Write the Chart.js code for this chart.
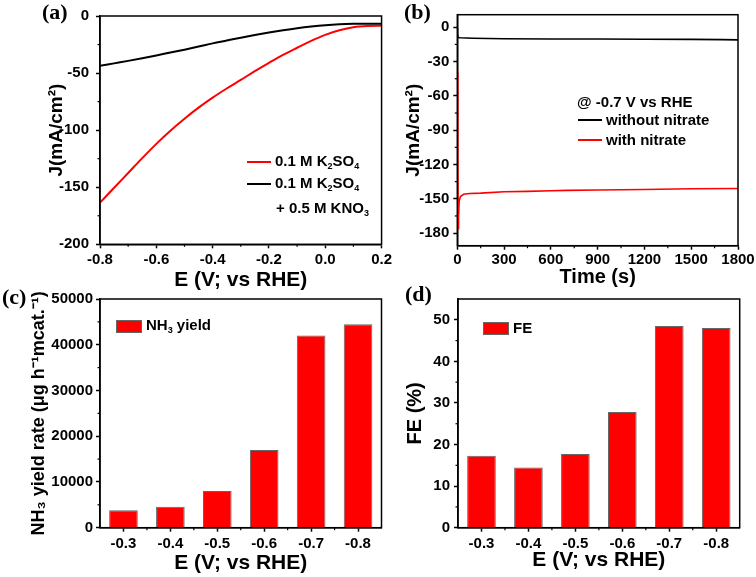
<!DOCTYPE html>
<html><head><meta charset="utf-8">
<script src="https://cdn.jsdelivr.net/npm/chart.js@4.4.1/dist/chart.umd.min.js"></script>
<style>
html,body{margin:0;padding:0;background:#fff;}
body{width:756px;height:577px;position:relative;overflow:hidden;font-family:'Liberation Sans',Arial,sans-serif;}
canvas{position:absolute;}
.pl{position:absolute;font-family:'Liberation Serif','Times New Roman',serif;font-weight:bold;font-size:22px;line-height:22px;}
.lg{position:absolute;font-weight:bold;font-size:15px;line-height:18px;height:18px;white-space:nowrap;display:flex;align-items:center;}
.ln{display:inline-block;width:24px;height:2px;margin-right:4px;}
.bx{display:inline-block;width:24px;height:11px;background:#f00;border:1px solid #666;margin-right:4px;}
sub{font-size:9px;vertical-align:baseline;position:relative;top:3px;}
</style></head><body>
<canvas id="ca" width="395" height="300" style="left:0;top:0"></canvas>
<canvas id="cb" width="378" height="300" style="left:378px;top:0"></canvas>
<canvas id="cc" width="395" height="297" style="left:0;top:280px"></canvas>
<canvas id="cd" width="378" height="297" style="left:378px;top:280px"></canvas>

<div class="pl" style="left:42px;top:1px">(a)</div>
<div class="pl" style="left:404px;top:1px">(b)</div>
<div class="pl" style="left:2px;top:286px">(c)</div>
<div class="pl" style="left:405px;top:283px">(d)</div>

<div class="lg" style="left:247px;top:153px"><span class="ln" style="background:#f00"></span><span>0.1 M K<sub>2</sub>SO<sub>4</sub></span></div>
<div class="lg" style="left:247px;top:175px"><span class="ln" style="background:#000"></span><span>0.1 M K<sub>2</sub>SO<sub>4</sub></span></div>
<div class="lg" style="left:276px;top:200px"><span>+ 0.5 M KNO<sub>3</sub></span></div>

<div class="lg" style="left:577px;top:93px"><span>@ -0.7 V vs RHE</span></div>
<div class="lg" style="left:578px;top:111px"><span class="ln" style="background:#000"></span><span>without nitrate</span></div>
<div class="lg" style="left:578px;top:131px"><span class="ln" style="background:#f00"></span><span>with nitrate</span></div>

<div class="lg" style="left:116px;top:317px"><span class="bx"></span><span>NH<sub>3</sub> yield</span></div>
<div class="lg" style="left:483px;top:319px"><span class="bx"></span><span>FE</span></div>

<script>
// ---------- (a) LSV curves ----------
const aPotential = [-0.80,-0.75,-0.70,-0.65,-0.60,-0.55,-0.50,-0.45,-0.40,-0.35,-0.30,-0.25,-0.20,-0.15,-0.10,-0.05,0.00,0.05,0.10,0.15,0.20];
const aJRed   = [-163.5,-150.5,-137.5,-124.5,-112,-100.5,-90,-80.3,-71.5,-63.5,-56,-48.3,-41,-34,-27.8,-21.8,-16.5,-12.5,-9.8,-8.8,-8.6];
const aJBlack = [-43.7,-41.5,-39.3,-37,-34.6,-32,-29.5,-26.8,-24,-21.5,-19,-16.7,-14.5,-12.5,-10.7,-9.2,-8,-7.2,-6.8,-6.7,-6.7];
const aXTicks = [-0.8,-0.6,-0.4,-0.2,0.0,0.2];
const aXMinor = [-0.7,-0.5,-0.3,-0.1,0.1];
const aYTicks = [0,-50,-100,-150,-200];
const aYMinor = [-25,-75,-125,-175];

// ---------- (b) i-t curves ----------
const bTimeBlack = [0,1,5,20,100,300,600,900,1200,1500,1700,1800];
const bJBlack    = [-0.5,-6,-9,-9.2,-9.6,-10,-10.2,-10.3,-10.5,-10.6,-10.8,-11];
const bTimeRed = [1,3,5,8,12,20,40,80,150,300,450,600,700,900,1200,1500,1800];
const bJRed    = [-39,-120,-176,-165,-152,-148,-146,-145.3,-145,-143.8,-143.5,-143,-142.6,-142.3,-141.8,-141.2,-141];
const bXTicks = [0,300,600,900,1200,1500,1800];
const bXMinor = [150,450,750,1050,1350,1650];
const bYTicks = [0,-30,-60,-90,-120,-150,-180];
const bYMinor = [-15,-45,-75,-105,-135,-165];

// ---------- (c),(d) bars ----------
const potentials = ['-0.3','-0.4','-0.5','-0.6','-0.7','-0.8'];
const nh3Yield = [3800,4600,8000,17000,42000,44500];
const faradaicEff = [17.3,14.5,17.7,27.8,48.5,48.0];
const cYTicks = [0,10000,20000,30000,40000,50000];
const cYMinor = [5000,15000,25000,35000,45000];
const dYTicks = [0,10,20,30,40,50];
const dYMinor = [5,15,25,35,45];
const catMinor = [0.5,1.5,2.5,3.5,4.5];

Chart.defaults.font.family = "'Liberation Sans', Arial, sans-serif";
Chart.defaults.font.weight = 'bold';
Chart.defaults.color = '#000';
Chart.defaults.animation = false;

const framePlugin = {
  id: 'frame',
  afterDraw(chart, args, opts) {
    const ctx = chart.ctx, a = chart.chartArea;
    ctx.save();
    ctx.strokeStyle = '#000';
    ctx.lineWidth = 1.5;
    ctx.strokeRect(a.left, a.top, a.right - a.left, a.bottom - a.top);
    ctx.lineWidth = 1.2;
    const xs = chart.scales.x, ys = chart.scales.y;
    (opts.minorX || []).forEach(v => { const p = xs.getPixelForValue(v); ctx.beginPath(); ctx.moveTo(p, a.bottom); ctx.lineTo(p, a.bottom + 2.5); ctx.stroke(); });
    (opts.minorY || []).forEach(v => { const p = ys.getPixelForValue(v); ctx.beginPath(); ctx.moveTo(a.left, p); ctx.lineTo(a.left - 2.5, p); ctx.stroke(); });
    ctx.restore();
  }
};

function mkScale(o) {
  const s = {
    type: o.type || 'linear',
    offset: !!o.offset,
    afterFit: (sc) => { if (o.width != null) sc.width = o.width; if (o.height != null) sc.height = o.height; },
    grid: { display: true, drawOnChartArea: false, drawTicks: true, tickLength: 4, tickColor: '#000', tickWidth: 1.5, offset: false },
    border: { display: true, color: '#000', width: 1.5 },
    ticks: { padding: o.tickPad, font: { size: 15, weight: 'bold' }, color: '#000', maxRotation: 0, autoSkip: false },
    title: { display: true, text: o.title, font: { size: o.titleSize || 21, weight: 'bold' }, color: '#000', padding: o.titlePad }
  };
  if (o.min != null) s.min = o.min;
  if (o.max != null) s.max = o.max;
  if (o.tickVals) s.afterBuildTicks = (sc) => { sc.ticks = o.tickVals.map(v => ({ value: v })); };
  if (o.fmt) s.ticks.callback = o.fmt;
  return s;
}

const base = { responsive: false, maintainAspectRatio: false, devicePixelRatio: 1, animation: false };

new Chart(document.getElementById('ca'), {
  type: 'line',
  data: { datasets: [
    { data: aPotential.map((x, i) => ({ x, y: aJBlack[i] })), borderColor: '#000', borderWidth: 2, pointRadius: 0, cubicInterpolationMode: 'monotone' },
    { data: aPotential.map((x, i) => ({ x, y: aJRed[i] })), borderColor: '#f00', borderWidth: 2, pointRadius: 0, cubicInterpolationMode: 'monotone' }
  ]},
  options: Object.assign({}, base, {
    layout: { padding: { left: 0, top: 15.7, right: 12, bottom: 0 } },
    plugins: { legend: { display: false }, tooltip: { enabled: false }, frame: { minorX: aXMinor, minorY: aYMinor } },
    scales: {
      x: mkScale({ min: -0.8, max: 0.2, tickVals: aXTicks, fmt: v => v.toFixed(1), height: 55.7, tickPad: 3, title: 'E (V; vs RHE)', titlePad: { top: 0, bottom: 7 } }),
      y: mkScale({ min: -200, max: 0, tickVals: aYTicks, fmt: v => String(v), width: 100, tickPad: 7, title: 'J(mA/cm²)', titleSize: 19, titlePad: { top: 45, bottom: 0 } })
    }
  }),
  plugins: [framePlugin]
});

new Chart(document.getElementById('cb'), {
  type: 'line',
  data: { datasets: [
    { data: bTimeBlack.map((x, i) => ({ x, y: bJBlack[i] })), borderColor: '#000', borderWidth: 1.6, pointRadius: 0 },
    { data: bTimeRed.map((x, i) => ({ x, y: bJRed[i] })), borderColor: '#f00', borderWidth: 1.6, pointRadius: 0 }
  ]},
  options: Object.assign({}, base, {
    layout: { padding: { left: 0, top: 14.7, right: 18, bottom: 0 } },
    plugins: { legend: { display: false }, tooltip: { enabled: false }, frame: { minorX: bXMinor, minorY: bYMinor } },
    scales: {
      x: mkScale({ min: 0, max: 1800, tickVals: bXTicks, fmt: v => String(v), height: 54.3, tickPad: 1, title: 'Time (s)', titleSize: 20, titlePad: { top: 0, bottom: 11 } }),
      y: mkScale({ min: -191, max: 11, tickVals: bYTicks, fmt: v => String(v), width: 79.3, tickPad: 4, title: 'J(mA/cm²)', titleSize: 19, titlePad: { top: 24, bottom: 0 } })
    }
  }),
  plugins: [framePlugin]
});

new Chart(document.getElementById('cc'), {
  type: 'bar',
  data: { labels: potentials, datasets: [
    { label: 'NH₃ yield', data: nh3Yield, backgroundColor: '#f00', borderColor: '#666', borderWidth: 1, barPercentage: 0.61, categoryPercentage: 1.0 }
  ]},
  options: Object.assign({}, base, {
    layout: { padding: { left: 0, top: 19, right: 13.5, bottom: 0 } },
    plugins: { legend: { display: false }, tooltip: { enabled: false }, frame: { minorX: catMinor, minorY: cYMinor } },
    scales: {
      x: mkScale({ type: 'category', offset: true, height: 49.3, tickPad: 3, title: 'E (V; vs RHE)', titlePad: { top: 0, bottom: 1 } }),
      y: mkScale({ min: 0, max: 50000, tickVals: cYTicks, fmt: v => String(v), width: 100, tickPad: 3, title: 'NH₃ yield rate (μg h⁻¹mcat.⁻¹)', titleSize: 18, titlePad: { top: 28, bottom: 0 } })
    }
  }),
  plugins: [framePlugin]
});

new Chart(document.getElementById('cd'), {
  type: 'bar',
  data: { labels: potentials, datasets: [
    { label: 'FE', data: faradaicEff, backgroundColor: '#f00', borderColor: '#666', borderWidth: 1, barPercentage: 0.61, categoryPercentage: 1.0 }
  ]},
  options: Object.assign({}, base, {
    layout: { padding: { left: 0, top: 19, right: 16.3, bottom: 0 } },
    plugins: { legend: { display: false }, tooltip: { enabled: false }, frame: { minorX: catMinor, minorY: dYMinor } },
    scales: {
      x: mkScale({ type: 'category', offset: true, height: 49.3, tickPad: 3, title: 'E (V; vs RHE)', titlePad: { top: 0, bottom: 4 } }),
      y: mkScale({ min: 0, max: 55, tickVals: dYTicks, fmt: v => String(v), width: 80, tickPad: 4, title: 'FE (%)', titleSize: 20, titlePad: { top: 25, bottom: 0 } })
    }
  }),
  plugins: [framePlugin]
});
</script>
</body></html>
